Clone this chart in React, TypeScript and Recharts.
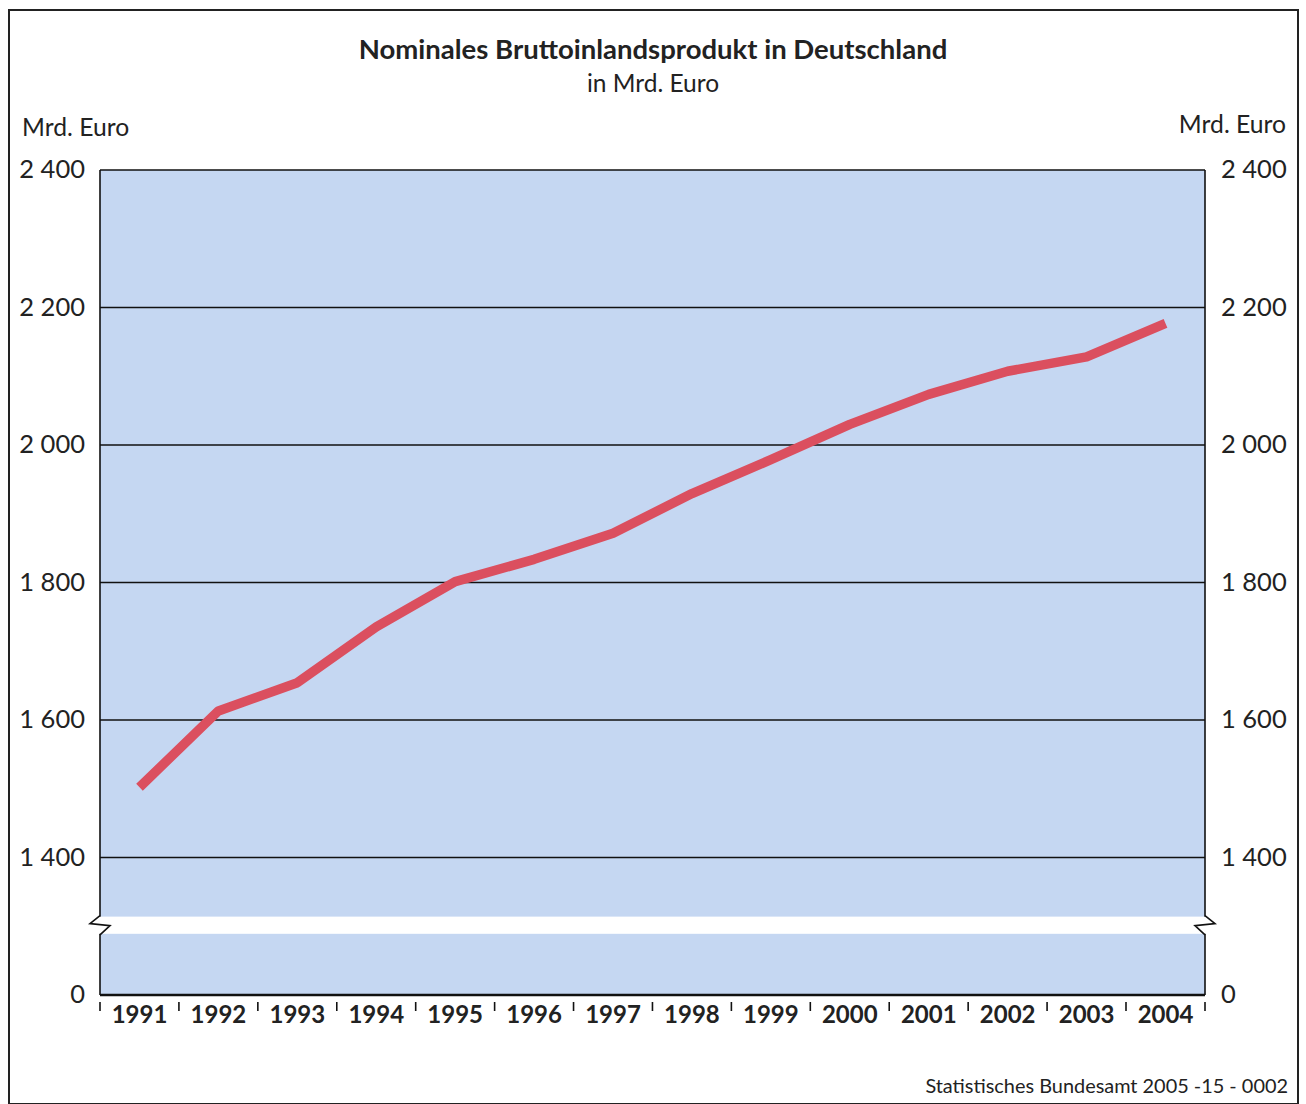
import React from 'react';
import { LineChart, Line, XAxis, YAxis, CartesianGrid, ReferenceArea } from 'recharts';

const years = ['1991', '1992', '1993', '1994', '1995', '1996', '1997', '1998', '1999', '2000', '2001', '2002', '2003', '2004'];
const gdp = [1502.2, 1613.2, 1654.2, 1735.5, 1801.3, 1833.7, 1871.6, 1929.4, 1978.6, 2030.0, 2073.7, 2107.3, 2128.2, 2177.0];
const yTicks = [1200, 1400, 1600, 1800, 2000, 2200, 2400];
const breakFrom = 1289;
const breakTo = 1314;

const data = years.map((y, i) => ({ year: y, value: gdp[i] }));

const FONT = 'Lato, "Open Sans", sans-serif';

const fmtY = (v: number) => (v === 1200 ? '0' : `${Math.floor(v / 1000)} ${String(v % 1000).padStart(3, '0')}`);

const HALF_BAND = 39.5;

const XTick = (props: any) => {
  const { x, y, payload, index } = props;
  const last = index === years.length - 1;
  return (
    <g>
      <line x1={x - HALF_BAND} x2={x - HALF_BAND} y1={y - 1} y2={y + 8} stroke="#111" strokeWidth={1.6} />
      {last && <line x1={x + HALF_BAND} x2={x + HALF_BAND} y1={y - 1} y2={y + 8} stroke="#111" strokeWidth={1.6} />}
      <text x={x} y={y + 20} textAnchor="middle" fontFamily={FONT} fontWeight={700} fontSize={24} fill="#222">
        {payload.value}
      </text>
    </g>
  );
};

const YTickLeft = (props: any) => {
  const { y, payload } = props;
  return (
    <text x={85} y={y + 8} textAnchor="end" fontFamily={FONT} fontSize={25.5} fill="#222">
      {fmtY(payload.value)}
    </text>
  );
};

const YTickRight = (props: any) => {
  const { y, payload } = props;
  return (
    <text x={1221} y={y + 8} textAnchor="start" fontFamily={FONT} fontSize={25.5} fill="#222">
      {fmtY(payload.value)}
    </text>
  );
};

const BreakShape = (props: any) => {
  const { x: px, y, width: pw, height } = props;
  const x = px - HALF_BAND;
  const r = px + pw + HALF_BAND;
  return (
    <g>
      <rect x={x - 3} y={y} width={r - x + 6} height={height} fill="#ffffff" />
      <polyline
        points={`${x},${y - 1} ${x - 10},${y + 7} ${x + 10},${y + 9} ${x},${y + height + 1}`}
        fill="none"
        stroke="#111"
        strokeWidth={1.6}
        strokeLinejoin="miter"
      />
      <polyline
        points={`${r},${y - 1} ${r + 10},${y + 7} ${r - 10},${y + 9} ${r},${y + height + 1}`}
        fill="none"
        stroke="#111"
        strokeWidth={1.6}
        strokeLinejoin="miter"
      />
    </g>
  );
};

export default function App() {
  return (
    <div style={{ position: 'absolute', left: 0, top: 0, width: 1306, height: 1104, background: '#fff', overflow: 'hidden' }}>
      <div
        style={{
          position: 'absolute',
          left: 8,
          top: 9,
          width: 1287,
          height: 1092,
          border: '2px solid #222',
        }}
      />
      <div style={{ position: 'absolute', left: 0, width: 1306, top: 32, textAlign: 'center', fontFamily: FONT, fontWeight: 700, fontSize: 27.5, color: '#222' }}>
        Nominales Bruttoinlandsprodukt in Deutschland
      </div>
      <div style={{ position: 'absolute', left: 0, width: 1306, top: 68, textAlign: 'center', fontFamily: FONT, fontSize: 24.5, color: '#222' }}>
        in Mrd. Euro
      </div>
      <div style={{ position: 'absolute', left: 22, top: 112, fontFamily: FONT, fontSize: 24.7, color: '#222' }}>Mrd. Euro</div>
      <div style={{ position: 'absolute', right: 20, top: 109, fontFamily: FONT, fontSize: 24.7, color: '#222' }}>Mrd. Euro</div>
      <div style={{ position: 'absolute', right: 18, top: 1073, fontFamily: FONT, fontSize: 19.9, color: '#222' }}>
        Statistisches Bundesamt 2005 -15 - 0002
      </div>
      <div style={{ position: 'absolute', left: 0, top: 0 }}>
        <LineChart width={1306} height={1104} data={data} margin={{ top: 170, left: 8, right: 8, bottom: 49 }}>
          <CartesianGrid yAxisId="left" vertical={false} fill="#c5d7f2" stroke="#111" strokeWidth={1.6} />
          <XAxis
            dataKey="year"
            padding={{ left: HALF_BAND, right: HALF_BAND }}
            height={60}
            tickLine={false}
            axisLine={{ stroke: '#111', strokeWidth: 2.4 }}
            tick={XTick}
            interval={0}
          />
          <YAxis
            yAxisId="left"
            width={92}
            domain={[1200, 2400]}
            ticks={yTicks}
            tickLine={false}
            axisLine={{ stroke: '#111', strokeWidth: 1.6 }}
            tick={YTickLeft}
            allowDataOverflow
          />
          <YAxis
            yAxisId="right"
            orientation="right"
            width={93}
            domain={[1200, 2400]}
            ticks={yTicks}
            tickLine={false}
            axisLine={{ stroke: '#111', strokeWidth: 1.6 }}
            tick={YTickRight}
            allowDataOverflow
          />
          <ReferenceArea
            yAxisId="left"
            y1={breakFrom}
            y2={breakTo}
            shape={BreakShape}
            ifOverflow="visible"
            {...({ zIndex: 650 } as any)}
          />
          <Line
            yAxisId="left"
            type="linear"
            dataKey="value"
            stroke="#db4f5f"
            strokeWidth={9.5}
            dot={false}
            isAnimationActive={false}
            strokeLinecap="butt"
            strokeLinejoin="round"
          />
        </LineChart>
      </div>
    </div>
  );
}
